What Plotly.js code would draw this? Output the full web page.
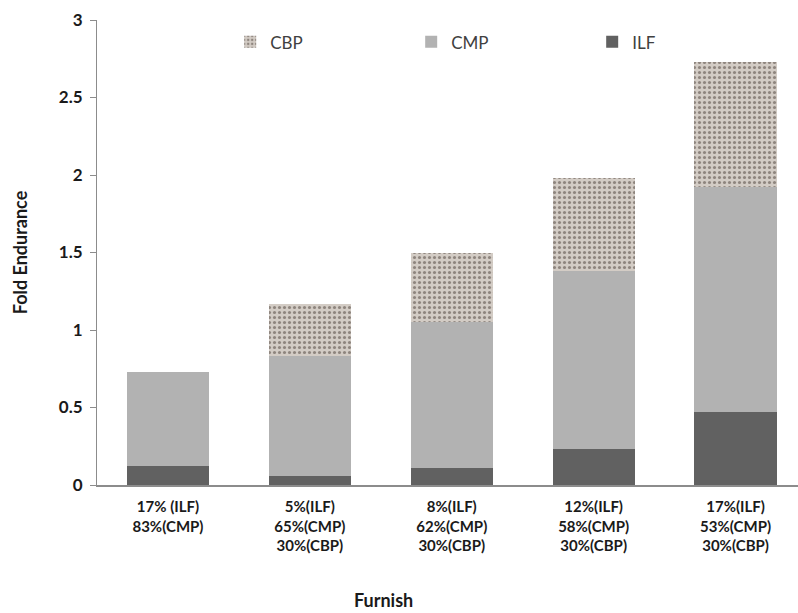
<!DOCTYPE html>
<html>
<head>
<meta charset="utf-8">
<script src="https://cdn.plot.ly/plotly-3.0.1.min.js"></script>
<style>
  html, body { margin: 0; padding: 0; background: #fff; }
  #chart { width: 798px; height: 613px; }
</style>
</head>
<body>
<div id="chart"></div>
<script>
// Furnish blends (category labels on the x axis)
const furnish = [
  "17% (ILF)<br>83%(CMP)",
  "5%(ILF)<br>65%(CMP)<br>30%(CBP)",
  "8%(ILF)<br>62%(CMP)<br>30%(CBP)",
  "12%(ILF)<br>58%(CMP)<br>30%(CBP)",
  "17%(ILF)<br>53%(CMP)<br>30%(CBP)"
];

// Fold endurance contribution of each pulp component
const ilf = [0.12, 0.06, 0.11, 0.23, 0.47];
const cmp = [0.61, 0.77, 0.94, 1.15, 1.45];
const cbp = [0.00, 0.34, 0.45, 0.60, 0.81];

const yTicks = [0, 0.5, 1, 1.5, 2, 2.5, 3];

const barWidth = 0.58;
const fontFamily = "Lato, 'Liberation Sans', sans-serif";

const traces = [
  {
    type: "bar", name: "ILF", x: furnish, y: ilf, width: barWidth,
    marker: { color: "#616161", line: { width: 0 } }
  },
  {
    type: "bar", name: "CMP", x: furnish, y: cmp, width: barWidth,
    marker: { color: "#b2b2b2", line: { width: 0 } }
  },
  {
    type: "bar", name: "CBP", x: furnish, y: cbp, width: barWidth,
    marker: {
      color: "#cdc5be",
      line: { width: 0 },
      pattern: { shape: ".", fgcolor: "#8e857e", bgcolor: "#d3ccc5", size: 5, solidity: 0.3, fillmode: "replace" }
    }
  }
];

const layout = {
  width: 798,
  height: 613,
  margin: { l: 97, r: 0, t: 20, b: 128 },
  paper_bgcolor: "#ffffff",
  plot_bgcolor: "#ffffff",
  barmode: "stack",
  showlegend: true,
  legend: {
    orientation: "h",
    traceorder: "reversed",
    x: 0.19, xanchor: "left",
    y: 0.952, yanchor: "middle",
    entrywidth: 136, entrywidthmode: "pixels",
    font: { family: fontFamily, size: 17, color: "#404040" },
    itemwidth: 30,
    bgcolor: "rgba(0,0,0,0)"
  },
  xaxis: {
    type: "category",
    range: [-0.5, 4.44],
    showgrid: false,
    zeroline: false,
    showline: true,
    linecolor: "#8c8c8c",
    linewidth: 2,
    ticks: "",
    ticklabelstandoff: 7,
    tickfont: { family: fontFamily, size: 15, color: "#1a1a1a", weight: "bold" }
  },
  yaxis: {
    range: [0, 3],
    tickvals: yTicks,
    ticktext: yTicks.map(String),
    showgrid: false,
    zeroline: false,
    showline: true,
    linecolor: "#8c8c8c",
    linewidth: 1,
    ticks: "outside",
    ticklen: 6,
    tickcolor: "#8c8c8c",
    ticklabelstandoff: 4,
    tickfont: { family: fontFamily, size: 17, color: "#1a1a1a", weight: "bold" },
    title: {
      text: "Fold Endurance",
      standoff: 26,
      font: { family: fontFamily, size: 18, color: "#1a1a1a", weight: "bold" }
    }
  },
  annotations: [
    {
      text: "Furnish",
      xref: "paper", yref: "paper",
      x: (383 - 97) / 701, y: -0.248,
      xanchor: "center", yanchor: "middle",
      showarrow: false,
      font: { family: fontFamily, size: 18, color: "#1a1a1a", weight: "bold" }
    }
  ]
};

Plotly.newPlot("chart", traces, layout, { displayModeBar: false, staticPlot: true });
</script>
</body>
</html>
